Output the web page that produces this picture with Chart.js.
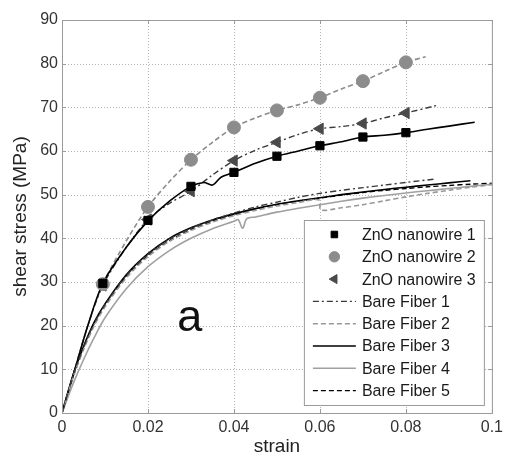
<!DOCTYPE html>
<html>
<head>
<meta charset="utf-8">
<script src="https://cdn.jsdelivr.net/npm/chart.js@4/dist/chart.umd.min.js"></script>
<style>
  html, body { margin: 0; padding: 0; background: #ffffff; }
  #wrap { position: relative; width: 508px; height: 455px; }
</style>
</head>
<body>
<div id="wrap"><canvas id="shearChart" width="508" height="455"></canvas></div>
<script>
// Axis ticks
const xTickLabels = ['0', '0.02', '0.04', '0.06', '0.08', '0.1'];
const yTickLabels = ['0', '10', '20', '30', '40', '50', '60', '70', '80', '90'];

// ZnO nanowire coated fibers - measured curves
const nw1Strain = [0, 0.003, 0.006, 0.0095, 0.015, 0.02, 0.025, 0.03, 0.033, 0.035, 0.037, 0.04, 0.045, 0.05, 0.055, 0.06, 0.065, 0.07, 0.075, 0.08, 0.085, 0.09, 0.096];
const nw1Stress = [0, 10, 20, 29.7, 38, 44, 48.5, 51.9, 52.8, 52.2, 54, 55.1, 57.2, 58.8, 60, 61.2, 62.1, 63.2, 63.6, 64.2, 65, 65.7, 66.6];
const nw1MarkStrain = [0.0095, 0.02, 0.03, 0.04, 0.05, 0.06, 0.07, 0.08];
const nw1MarkStress = [29.7, 44.1, 51.9, 55.1, 58.8, 61.2, 63.2, 64.2];

const nw2Strain = [0, 0.003, 0.006, 0.0095, 0.015, 0.02, 0.025, 0.03, 0.035, 0.04, 0.045, 0.05, 0.055, 0.06, 0.065, 0.07, 0.075, 0.08, 0.0846];
const nw2Stress = [0, 10, 20, 29.5, 39.5, 47.2, 53, 58, 62, 65.4, 67.6, 69.3, 70.6, 72.2, 74.2, 76, 78.2, 80.3, 81.6];
const nw2MarkStrain = [0.0095, 0.02, 0.03, 0.04, 0.05, 0.06, 0.07, 0.08];
const nw2MarkStress = [29.5, 47.2, 58, 65.4, 69.3, 72.2, 76, 80.3];

const nw3Strain = [0, 0.003, 0.006, 0.0095, 0.015, 0.02, 0.025, 0.03, 0.035, 0.04, 0.045, 0.05, 0.055, 0.06, 0.065, 0.07, 0.075, 0.08, 0.087];
const nw3Stress = [0, 10, 20, 29.2, 38, 44.3, 48, 50.8, 54.5, 57.8, 60.2, 62, 63.8, 65.1, 65.6, 66.3, 67.6, 68.7, 70.4];
const nw3MarkStrain = [0.0095, 0.02, 0.03, 0.04, 0.05, 0.06, 0.07, 0.08];
const nw3MarkStress = [29.2, 44.3, 50.8, 57.8, 62, 65.1, 66.3, 68.7];

// Bare fibers
const bf1Strain = [0, 0.0025, 0.005, 0.0075, 0.01, 0.015, 0.02, 0.025, 0.03, 0.035, 0.04, 0.045, 0.05, 0.055, 0.06, 0.065, 0.07, 0.075, 0.08, 0.087];
const bf1Stress = [0, 8.3, 15, 20.5, 24.8, 31.5, 36.3, 39.8, 42.3, 44.2, 45.8, 47.2, 48.3, 49.4, 50.3, 51, 51.6, 52.2, 52.8, 53.6];

const bf2Strain = [0, 0.0025, 0.005, 0.0075, 0.01, 0.015, 0.02, 0.025, 0.03, 0.035, 0.04, 0.045, 0.05, 0.055, 0.0598, 0.0602, 0.065, 0.07, 0.075, 0.08, 0.085, 0.09, 0.095, 0.1];
const bf2Stress = [0, 8, 14.5, 20, 24.3, 31, 35.8, 39.3, 41.8, 43.7, 45.2, 46.4, 47.4, 48.2, 48.8, 46.5, 47, 47.7, 48.6, 49.5, 50.3, 51, 51.7, 52.3];

const bf3Strain = [0, 0.0025, 0.005, 0.0075, 0.01, 0.015, 0.02, 0.025, 0.03, 0.035, 0.04, 0.045, 0.05, 0.055, 0.06, 0.065, 0.07, 0.075, 0.08, 0.085, 0.09, 0.095];
const bf3Stress = [0, 8.5, 15.2, 20.8, 25, 31.7, 36.5, 40, 42.4, 44.2, 45.6, 46.8, 47.8, 48.6, 49.3, 50, 50.6, 51.2, 51.7, 52.2, 52.7, 53.2];

const bf4Strain = [0, 0.0025, 0.005, 0.0075, 0.01, 0.015, 0.02, 0.025, 0.03, 0.035, 0.04, 0.041, 0.042, 0.043, 0.045, 0.05, 0.055, 0.06, 0.065, 0.07, 0.075, 0.08, 0.085, 0.09, 0.095, 0.1];
const bf4Stress = [0, 6.5, 12.2, 17.3, 21.8, 28.5, 33.5, 37.2, 40, 42.2, 43.9, 44.3, 42.3, 44.5, 44.9, 46, 46.9, 47.7, 48.5, 49.2, 49.8, 50.4, 50.9, 51.4, 51.9, 52.4];

const bf5Strain = [0, 0.0025, 0.005, 0.0075, 0.01, 0.015, 0.02, 0.025, 0.03, 0.035, 0.04, 0.045, 0.05, 0.055, 0.06, 0.065, 0.07, 0.075, 0.08, 0.085, 0.09, 0.095, 0.1];
const bf5Stress = [0, 8, 14.8, 20.3, 24.5, 31.3, 36, 39.5, 42, 43.9, 45.4, 46.7, 47.7, 48.5, 49.2, 49.9, 50.5, 51, 51.4, 51.8, 52.1, 52.4, 52.6];

const FONT = "'Liberation Sans', Arial, sans-serif";

function pts(xs, ys) {
    return xs.map((x, i) => ({ x: x, y: ys[i] }));
}

function lineSet(label, xs, ys, color, dash, width, inLegend) {
    return {
        label: label,
        data: pts(xs, ys),
        showLine: true,
        borderColor: color,
        backgroundColor: color,
        borderWidth: width,
        borderDash: dash,
        pointRadius: 0,
        tension: 0.3,
        inLegend: inLegend,
        order: 1
    };
}

function markerSet(label, xs, ys, color, style, radius, rotation) {
    return {
        label: label,
        data: pts(xs, ys),
        showLine: false,
        pointStyle: style,
        pointRadius: radius,
        pointRotation: rotation,
        pointBackgroundColor: color,
        pointBorderColor: color,
        pointBorderWidth: 1,
        borderColor: color,
        backgroundColor: color,
        inLegend: true,
        order: 0
    };
}

const datasets = [
    markerSet('ZnO nanowire 1', nw1MarkStrain, nw1MarkStress, '#000000', 'rect', 5.8, 0),
    markerSet('ZnO nanowire 2', nw2MarkStrain, nw2MarkStress, '#8c8c8c', 'circle', 6.5, 0),
    markerSet('ZnO nanowire 3', nw3MarkStrain, nw3MarkStress, '#4a4a4a', 'triangle', 6.5, -90),
    lineSet('Bare Fiber 1', bf1Strain, bf1Stress, '#3a3a3a', [6, 3, 2, 3], 1.4, true),
    lineSet('Bare Fiber 2', bf2Strain, bf2Stress, '#9a9a9a', [5, 3], 1.6, true),
    lineSet('Bare Fiber 3', bf3Strain, bf3Stress, '#000000', [], 1.6, true),
    lineSet('Bare Fiber 4', bf4Strain, bf4Stress, '#a0a0a0', [], 1.6, true),
    lineSet('Bare Fiber 5', bf5Strain, bf5Stress, '#000000', [5, 3], 1.4, true),
    // lines through the nanowire markers
    lineSet('nw1 line', nw1Strain, nw1Stress, '#000000', [], 1.6, false),
    lineSet('nw2 line', nw2Strain, nw2Stress, '#8c8c8c', [5, 3], 1.6, false),
    lineSet('nw3 line', nw3Strain, nw3Stress, '#3a3a3a', [6, 3, 2, 3], 1.4, false)
];

// dotted Matlab grid, drawn under the data
const gridPlugin = {
    id: 'gridPlugin',
    beforeDatasetsDraw(chart) {
        const ctx = chart.ctx;
        const a = chart.chartArea;
        const xs = chart.scales.x, ys = chart.scales.y;
        ctx.save();
        ctx.strokeStyle = '#b4b4b4';
        ctx.lineWidth = 1;
        ctx.setLineDash([1, 2]);
        ctx.beginPath();
        xs.ticks.forEach(t => {
            const px = Math.round(xs.getPixelForValue(t.value)) + 0.5;
            ctx.moveTo(px, a.top); ctx.lineTo(px, a.bottom);
        });
        ys.ticks.forEach(t => {
            const py = Math.round(ys.getPixelForValue(t.value)) + 0.5;
            ctx.moveTo(a.left, py); ctx.lineTo(a.right, py);
        });
        ctx.stroke();
        ctx.restore();
    }
};

// Plot frame + label "a"
const framePlugin = {
    id: 'framePlugin',
    afterDatasetsDraw(chart) {
        const ctx = chart.ctx;
        const a = chart.chartArea;
        const xs = chart.scales.x, ys = chart.scales.y;
        ctx.save();
        ctx.strokeStyle = '#9a9a9a';
        ctx.lineWidth = 1;
        ctx.setLineDash([]);
        ctx.strokeRect(a.left + 0.5, a.top + 0.5, a.right - a.left, a.bottom - a.top);
        ctx.beginPath();
        xs.ticks.forEach(t => {
            const px = Math.round(xs.getPixelForValue(t.value)) + 0.5;
            ctx.moveTo(px, a.bottom); ctx.lineTo(px, a.bottom - 4);
            ctx.moveTo(px, a.top); ctx.lineTo(px, a.top + 4);
        });
        ys.ticks.forEach(t => {
            const py = Math.round(ys.getPixelForValue(t.value)) + 0.5;
            ctx.moveTo(a.left, py); ctx.lineTo(a.left + 4, py);
            ctx.moveTo(a.right, py); ctx.lineTo(a.right - 4, py);
        });
        ctx.stroke();

        ctx.fillStyle = '#111111';
        ctx.font = '45px ' + FONT;
        ctx.textAlign = 'center';
        ctx.textBaseline = 'alphabetic';
        ctx.fillText('a', xs.getPixelForValue(0.0297), ys.getPixelForValue(18.8));
        ctx.restore();
    }
};

// Matlab style legend box in the lower right
const legendPlugin = {
    id: 'legendPlugin',
    afterDraw(chart) {
        const ctx = chart.ctx;
        const a = chart.chartArea;
        const boxW = 180, boxH = 185;
        const left = a.right - 188, top = a.bottom - 193;
        ctx.save();
        ctx.fillStyle = '#ffffff';
        ctx.fillRect(left, top, boxW, boxH);
        ctx.strokeStyle = '#9a9a9a';
        ctx.lineWidth = 1;
        ctx.strokeRect(left + 0.5, top + 0.5, boxW, boxH);

        const items = chart.data.datasets.filter(d => d.inLegend);
        items.forEach((d, i) => {
            const cy = top + 14.5 + i * 22.3;
            const x0 = left + 9, x1 = left + 52;
            if (d.showLine) {
                ctx.strokeStyle = d.borderColor;
                ctx.lineWidth = d.borderWidth;
                ctx.setLineDash(d.borderDash);
                ctx.beginPath();
                ctx.moveTo(x0, cy);
                ctx.lineTo(x1, cy);
                ctx.stroke();
                ctx.setLineDash([]);
            } else {
                ctx.fillStyle = d.pointBackgroundColor;
                ctx.strokeStyle = d.pointBorderColor;
                ctx.lineWidth = 1;
                Chart.helpers.drawPoint(ctx, {
                    pointStyle: d.pointStyle,
                    radius: d.pointRadius * 0.8,
                    rotation: d.pointRotation,
                    borderWidth: 1
                }, (x0 + x1) / 2, cy);
            }
            ctx.fillStyle = '#1a1a1a';
            ctx.font = '16px ' + FONT;
            ctx.textAlign = 'left';
            ctx.textBaseline = 'middle';
            ctx.fillText(d.label, left + 58, cy + 1);
        });
        ctx.restore();
    }
};

const ctx = document.getElementById('shearChart').getContext('2d');
new Chart(ctx, {
    type: 'scatter',
    data: { datasets: datasets },
    options: {
        responsive: false,
        animation: false,
        layout: { padding: { top: 20, right: 11, left: 0, bottom: 0 } },
        plugins: {
            legend: { display: false },
            tooltip: { enabled: false }
        },
        scales: {
            x: {
                type: 'linear',
                min: 0,
                max: 0.1,
                afterFit(scale) { scale.height = 42; },
                grid: { display: false, drawTicks: false, tickLength: 0 },
                border: { display: false },
                ticks: {
                    stepSize: 0.02,
                    padding: 5,
                    color: '#333333',
                    font: { family: FONT, size: 16 },
                    callback: (v, i) => xTickLabels[i]
                },
                title: {
                    display: true,
                    text: 'strain',
                    color: '#222222',
                    font: { family: FONT, size: 19 },
                    padding: { top: 0, bottom: -3 }
                }
            },
            y: {
                type: 'linear',
                min: 0,
                max: 90,
                afterFit(scale) { scale.width = 62; },
                grid: { display: false, drawTicks: false, tickLength: 0 },
                border: { display: false },
                ticks: {
                    stepSize: 10,
                    padding: 4,
                    color: '#333333',
                    font: { family: FONT, size: 16 },
                    callback: (v, i) => yTickLabels[i]
                },
                title: {
                    display: true,
                    text: 'shear stress (MPa)',
                    color: '#222222',
                    font: { family: FONT, size: 19 },
                    padding: { top: 9, bottom: 0 }
                }
            }
        }
    },
    plugins: [gridPlugin, framePlugin, legendPlugin]
});
</script>
</body>
</html>
